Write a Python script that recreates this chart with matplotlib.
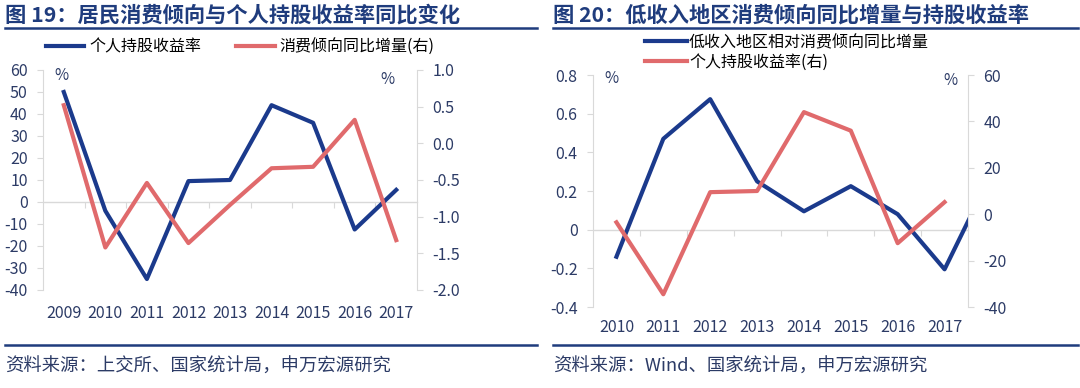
import matplotlib
matplotlib.use('Agg')
import matplotlib.pyplot as plt
from matplotlib.lines import Line2D

plt.rcParams['font.family'] = ['Noto Sans CJK SC', 'DejaVu Sans']
plt.rcParams['axes.unicode_minus'] = False

# ---- data ----
years_19 = [2009, 2010, 2011, 2012, 2013, 2014, 2015, 2016, 2017]
stock_return_19 = [50, -4, -35, 9.5, 10, 44, 36, -12.5, 5.5]          # 个人持股收益率 (left)
consume_yoy_19 = [0.52, -1.42, -0.54, -1.36, -0.84, -0.34, -0.32, 0.32, -1.32]  # 消费倾向同比增量 (right)

years_20 = [2010, 2011, 2012, 2013, 2014, 2015, 2016, 2017]
years_20_blue = [2010, 2011, 2012, 2013, 2014, 2015, 2016, 2017, 2018]
lowinc_yoy_20 = [-0.14, 0.47, 0.675, 0.25, 0.095, 0.225, 0.08, -0.205, 0.29]  # 低收入地区相对消费倾向同比增量 (left)
stock_return_20 = [-3.5, -34.5, 9.5, 10, 44, 36, -12.5, 5.2]                   # 个人持股收益率 (right)

left_ticks_19 = [60, 50, 40, 30, 20, 10, 0, -10, -20, -30, -40]
right_ticks_19 = [1.0, 0.5, 0.0, -0.5, -1.0, -1.5, -2.0]
left_ticks_20 = [0.8, 0.6, 0.4, 0.2, 0, -0.2, -0.4]
right_ticks_20 = [60, 40, 20, 0, -20, -40]

BLUE = '#1b3a8c'
RED = '#e06a6c'
TXT = '#2c3b66'
GRID = '#d9d9d9'
NAVY = '#1f3c7d'

fig = plt.figure(figsize=(10.8, 3.88), dpi=100)


def style(ax, side):
    for s in ['top', 'bottom']:
        ax.spines[s].set_visible(False)
    for s in ['left', 'right']:
        ax.spines[s].set_color(GRID)
    if side == 'left':
        ax.spines['right'].set_visible(False)
    else:
        ax.spines['left'].set_visible(False)
    ax.tick_params(axis='y', colors=GRID, labelcolor=TXT, labelsize=11.5,
                   length=4, width=0.8, pad=7)
    ax.tick_params(axis='x', length=0, labelcolor=TXT, labelsize=11.5)


def zero_axis(ax, years):
    sec = ax.secondary_xaxis(0, transform=ax.transData)
    sec.set_xticks([y + 0.5 for y in years[:-1]])
    sec.set_xticklabels([])
    sec.tick_params(length=4, color=GRID, width=0.8)
    sec.spines['bottom'].set_color(GRID)
    sec.spines['bottom'].set_linewidth(1)


# ---------- chart 19 ----------
ax1 = fig.add_axes([43 / 1080, 1 - 290 / 388, 374 / 1080, 220 / 388])
ax1r = ax1.twinx()
l1, = ax1.plot(years_19, stock_return_19, color=BLUE, lw=3, label='个人持股收益率')
l2, = ax1r.plot(years_19, consume_yoy_19, color=RED, lw=3, label='消费倾向同比增量(右)')
ax1.set_xlim(years_19[0] - 0.5, years_19[-1] + 0.5)
ax1.set_ylim(-40, 60)
ax1.set_yticks(left_ticks_19)
ax1r.set_ylim(-2.0, 1.0)
ax1r.set_yticks(right_ticks_19)
ax1r.set_yticklabels([f'{v:.1f}' for v in right_ticks_19])
ax1.set_xticks(years_19)
ax1.set_xticklabels([str(y) for y in years_19])
ax1.tick_params(axis='x', pad=11)
style(ax1, 'left')
style(ax1r, 'right')
zero_axis(ax1, years_19)
ax1.text(0.05, 0.975, '%', transform=ax1.transAxes, color=TXT, fontsize=11,
         ha='center', va='center')
ax1.text(0.92, 0.955, '%', transform=ax1.transAxes, color=TXT, fontsize=11,
         ha='center', va='center')
fig.legend(handles=[l1, l2], loc='center left', bbox_to_anchor=(46 / 1080, 1 - 47 / 388),
           ncol=2, frameon=False, fontsize=11.5, handlelength=2.4, handletextpad=0.3,
           columnspacing=2.2, borderpad=0, borderaxespad=0)

# ---------- chart 20 ----------
ax2 = fig.add_axes([593 / 1080, 1 - 307 / 388, 375 / 1080, 232 / 388])
ax2r = ax2.twinx()
m1, = ax2.plot(years_20_blue, lowinc_yoy_20, color=BLUE, lw=3, label='低收入地区相对消费倾向同比增量')
m2, = ax2r.plot(years_20, stock_return_20, color=RED, lw=3, label='个人持股收益率(右)')
ax2.set_xlim(years_20[0] - 0.5, years_20[-1] + 0.5)
ax2.set_ylim(-0.4, 0.8)
ax2.set_yticks(left_ticks_20)
ax2.set_yticklabels(['0.8', '0.6', '0.4', '0.2', '0', '-0.2', '-0.4'])
ax2r.set_ylim(-40, 60)
ax2r.set_yticks(right_ticks_20)
ax2.set_xticks(years_20)
ax2.set_xticklabels([str(y) for y in years_20])
ax2.tick_params(axis='x', pad=9)
style(ax2, 'left')
style(ax2r, 'right')
zero_axis(ax2, years_20)
ax2.text(0.05, 0.985, '%', transform=ax2.transAxes, color=TXT, fontsize=11,
         ha='center', va='center')
ax2.text(0.952, 0.975, '%', transform=ax2.transAxes, color=TXT, fontsize=11,
         ha='center', va='center')
fig.legend(handles=[m1, m2], loc='upper left', bbox_to_anchor=(645 / 1080, 1 - 34 / 388),
           ncol=1, frameon=False, fontsize=11.5, handlelength=2.6, handletextpad=0.15,
           labelspacing=0.15, borderpad=0, borderaxespad=0)

# ---------- titles, rules, sources ----------
fig.text(5 / 1080, 1 - 15 / 388, '图 19：居民消费倾向与个人持股收益率同比变化',
         fontsize=15.3, fontweight='bold', color=NAVY, ha='left', va='center')
fig.text(553 / 1080, 1 - 15 / 388, '图 20：低收入地区消费倾向同比增量与持股收益率',
         fontsize=15.3, fontweight='bold', color=NAVY, ha='left', va='center')
for x0, x1 in [(5, 537), (553, 1078)]:
    for yy in [28, 345]:
        fig.add_artist(Line2D([x0 / 1080, x1 / 1080], [1 - yy / 388] * 2,
                              color=NAVY, lw=1.8, transform=fig.transFigure))
fig.text(5 / 1080, 1 - 367 / 388, '资料来源：上交所、国家统计局，申万宏源研究',
         fontsize=13.2, color=TXT, ha='left', va='center')
fig.text(553 / 1080, 1 - 367 / 388, '资料来源：Wind、国家统计局，申万宏源研究',
         fontsize=13.2, color=TXT, ha='left', va='center')

fig.savefig('out.png', dpi=100)
